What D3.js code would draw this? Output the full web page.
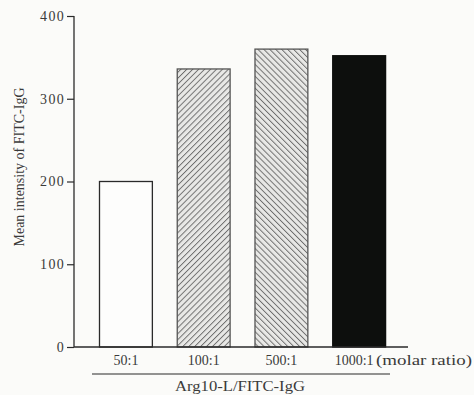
<!DOCTYPE html>
<html>
<head>
<meta charset="utf-8">
<script src="https://cdn.jsdelivr.net/npm/d3@7"></script>
<style>
  html, body { margin: 0; padding: 0; background: #fbfbf9; }
  svg { display: block; }
  text { font-family: "Liberation Serif", "Times New Roman", serif; fill: #3a3a3a; }
</style>
</head>
<body>
<svg id="chart" width="474" height="395"></svg>
<script>
// Molar ratios of Arg10-L to FITC-IgG and the measured mean intensity
const categories = ["50:1", "100:1", "500:1", "1000:1"];
const values = [200, 336, 360, 352];
const fills = ["white", "hatchUp", "hatchDown", "solid"];
const yTicks = [0, 100, 200, 300, 400];

const svg = d3.select("#chart");
const serif = "'Liberation Serif', 'Times New Roman', serif";

const y = d3.scaleLinear().domain([0, 400]).range([347, 16]);
const x = d3.scaleBand().domain(categories).range([99.5, 385.6])
  .paddingInner(0.32).paddingOuter(0);

// Hatch patterns for the two middle bars
const defs = svg.append("defs");
function hatch(id, dir) {
  const p = defs.append("pattern").attr("id", id)
    .attr("patternUnits", "userSpaceOnUse")
    .attr("width", 4.2).attr("height", 4.2)
    .attr("patternTransform", `rotate(${dir})`);
  p.append("rect").attr("width", 4.2).attr("height", 4.2).attr("fill", "#e8e8e6");
  p.append("line").attr("x1", 0).attr("y1", 0).attr("x2", 0).attr("y2", 4.2)
    .attr("stroke", "#6d6d6d").attr("stroke-width", 1.9);
}
hatch("hatchUp", 45);
hatch("hatchDown", -45);

const fillFor = f => f === "white" ? "#fdfdfc" : f === "solid" ? "#0d0f0d" : `url(#${f})`;
const strokeFor = f => f === "solid" ? "#0d0f0d" : (f === "white" ? "#2a2a2a" : "#555");

svg.append("g").selectAll("rect")
  .data(categories)
  .join("rect")
  .attr("x", d => x(d))
  .attr("width", x.bandwidth())
  .attr("y", (d, i) => y(values[i]))
  .attr("height", (d, i) => y(0) - y(values[i]))
  .attr("fill", (d, i) => fillFor(fills[i]))
  .attr("stroke", (d, i) => strokeFor(fills[i]))
  .attr("stroke-width", 1.3);

// Y axis
const yAxis = svg.append("g").attr("transform", "translate(74,0)")
  .call(d3.axisLeft(y).tickValues(yTicks).tickSize(7).tickPadding(2).tickFormat(d3.format("d")));
yAxis.attr("font-family", serif);
yAxis.select(".domain").attr("stroke", "#2a2a2a").attr("stroke-width", 1.3).attr("d", `M0,${y(0)}V${y(400)}`);
yAxis.selectAll(".tick line").attr("stroke", "#2a2a2a").attr("stroke-width", 1.2);
yAxis.selectAll(".tick text")
  .style("font-family", serif).attr("font-size", 14)
  .attr("letter-spacing", 1.3).attr("fill", "#3a3a3a");

// X axis baseline and category labels
svg.append("line").attr("x1", 74).attr("x2", 408).attr("y1", y(0)).attr("y2", y(0))
  .attr("stroke", "#2a2a2a").attr("stroke-width", 1.3);

const xAxis = svg.append("g").attr("transform", `translate(0,${y(0)})`)
  .call(d3.axisBottom(x).tickSize(0).tickPadding(8));
xAxis.attr("font-family", serif);
xAxis.select(".domain").remove();
xAxis.selectAll(".tick text")
  .style("font-family", serif).attr("font-size", 14)
  .attr("fill", "#3a3a3a")
  .attr("dx", (d, i) => i === categories.length - 1 ? -5 : 0);

svg.append("text").attr("x", 376).attr("y", 365)
  .style("font-family", serif)
  .attr("font-size", 14)
  .attr("textLength", 96).attr("lengthAdjust", "spacingAndGlyphs")
  .text("(molar ratio)");

// Group label under the ratios
svg.append("line").attr("x1", 92).attr("x2", 390).attr("y1", 374).attr("y2", 374)
  .attr("stroke", "#2a2a2a").attr("stroke-width", 1.2);
svg.append("text").attr("x", 175).attr("y", 391)
  .style("font-family", serif)
  .attr("font-size", 15)
  .attr("textLength", 130).attr("lengthAdjust", "spacingAndGlyphs")
  .text("Arg10-L/FITC-IgG");

// Y axis title
svg.append("text")
  .attr("transform", "translate(24,167) rotate(-90)")
  .attr("text-anchor", "middle")
  .style("font-family", serif)
  .attr("font-size", 14)
  .text("Mean intensity of FITC-IgG");
</script>
</body>
</html>
